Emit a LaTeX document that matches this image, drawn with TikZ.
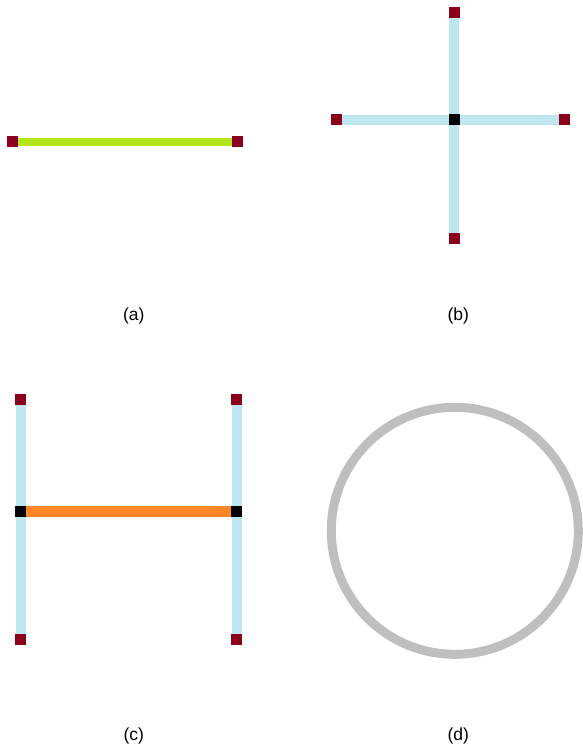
\documentclass[tikz,border=0pt]{standalone}
\usepackage{fontspec}
\setmainfont{Liberation Sans}
\usetikzlibrary{backgrounds}
\definecolor{endred}{RGB}{139,0,26}
\definecolor{limegreen}{RGB}{180,228,28}
\definecolor{paleblue}{RGB}{189,230,240}
\definecolor{brightorange}{RGB}{255,133,38}
\definecolor{ringgray}{RGB}{191,191,191}
\tikzset{
  endsq/.style={fill=endred, draw=none, minimum size=11pt, inner sep=0pt, outer sep=0pt},
  joinsq/.style={fill=black, draw=none, minimum size=11pt, inner sep=0pt, outer sep=0pt},
  greenbar/.style={draw=limegreen, line width=7.5pt},
  bluebar/.style={draw=paleblue, line width=10pt},
  orangebar/.style={draw=brightorange, line width=11pt},
  ring/.style={draw=ringgray, line width=9pt},
  caption/.style={anchor=base, font=\fontsize{17.5pt}{21pt}\selectfont, inner sep=0pt}
}
\begin{document}
\begin{tikzpicture}[x=1pt,y=-1pt]
\useasboundingbox (0,0) rectangle (582,747);
% (a)
\node[endsq] (a1) at (12.3,141.8) {};
\node[endsq] (a2) at (237,141.8) {};
% (b)
\node[joinsq] (bc) at (454.3,119.5) {};
\node[endsq] (bt) at (454.3,12.5) {};
\node[endsq] (bb) at (454.3,238.3) {};
\node[endsq] (bl) at (336,119.5) {};
\node[endsq] (br) at (564.5,119.5) {};
% (c)
\node[joinsq] (cl) at (20.8,511.5) {};
\node[joinsq] (cr) at (236.8,511.5) {};
\node[endsq] (clt) at (20.8,399) {};
\node[endsq] (clb) at (20.8,639.5) {};
\node[endsq] (crt) at (236.8,399) {};
\node[endsq] (crb) at (236.8,639.5) {};
% (d)
\node[ring, circle, minimum size=247pt, inner sep=0pt] (ring) at (454.8,530.8) {};
\begin{scope}[on background layer]
  \draw[greenbar] (a1.center) -- (a2.center);
  \draw[bluebar] (bt.center) -- (bb.center);
  \draw[bluebar] (bl.center) -- (br.center);
  \draw[bluebar] (clt.center) -- (clb.center);
  \draw[bluebar] (crt.center) -- (crb.center);
  \draw[orangebar] (cl.center) -- (cr.center);
\end{scope}
% captions
\node[caption] (capa) at (133.8,320) {(a)};
\node[caption] (capb) at (458.3,320) {(b)};
\node[caption] (capc) at (133.8,740) {(c)};
\node[caption] (capd) at (458.3,740) {(d)};
\end{tikzpicture}
\end{document}
